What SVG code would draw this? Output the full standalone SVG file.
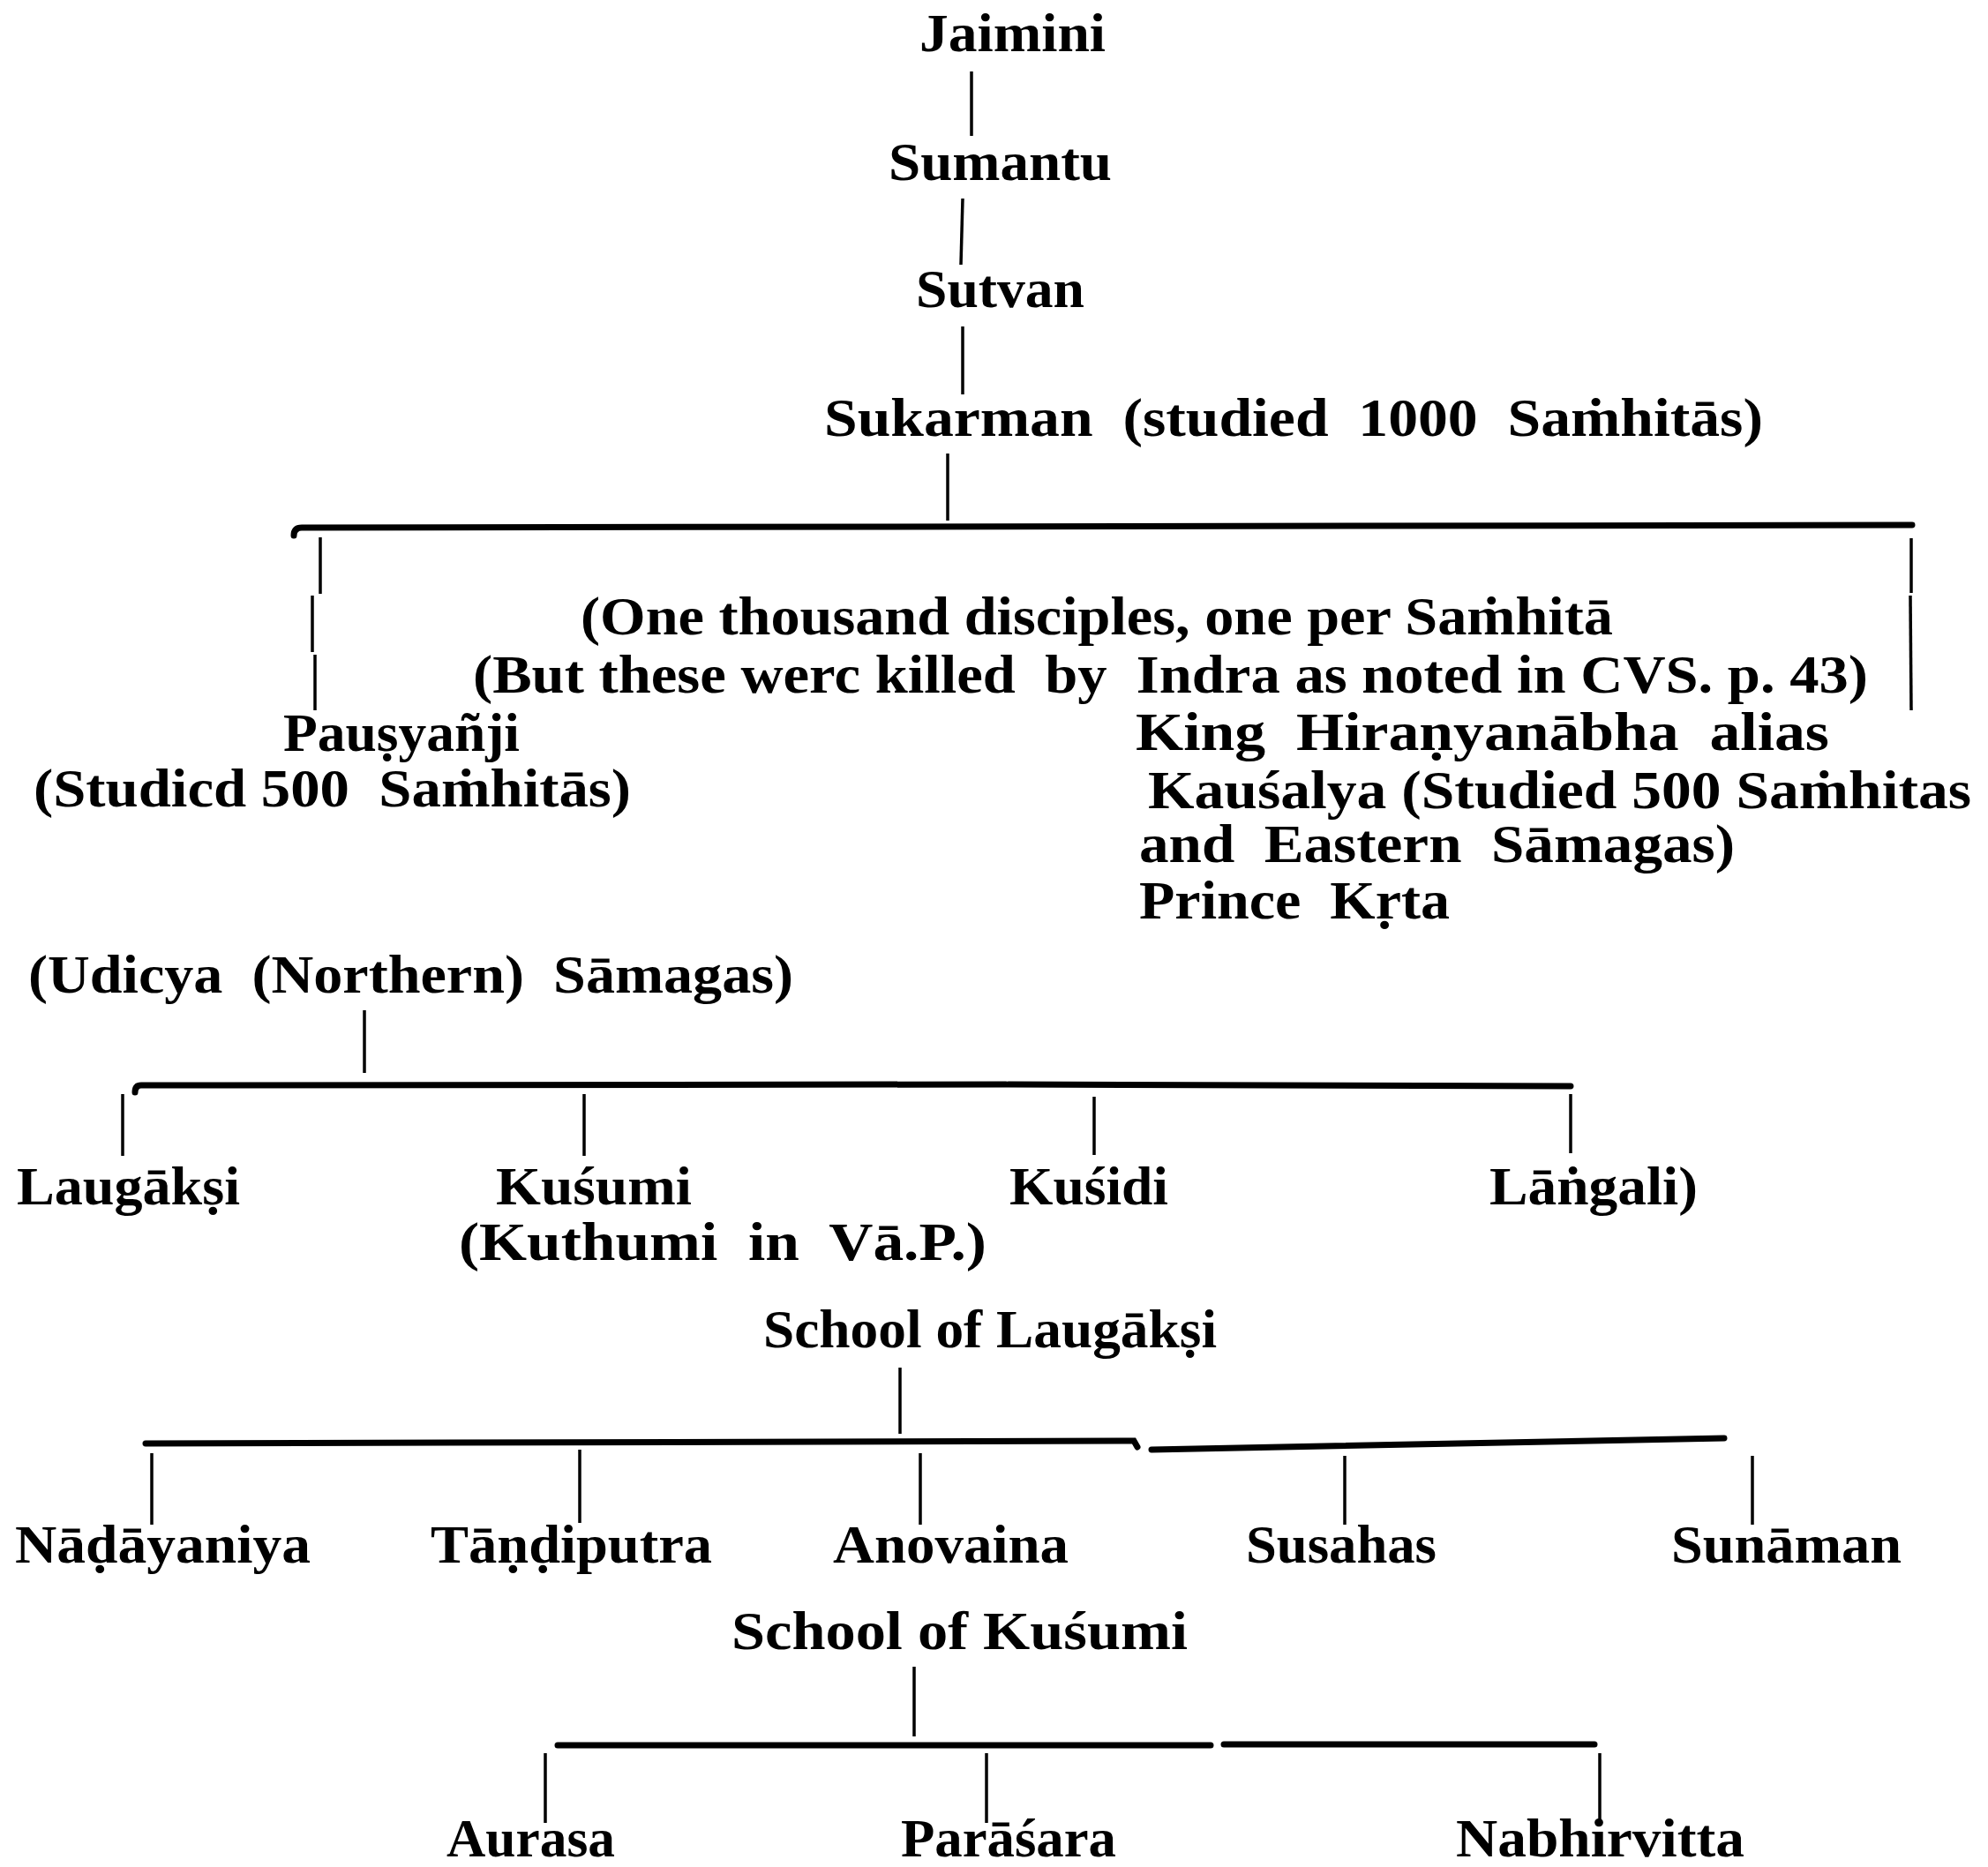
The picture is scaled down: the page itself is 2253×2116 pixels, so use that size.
<svg xmlns="http://www.w3.org/2000/svg" width="2253" height="2116" viewBox="0 0 2253 2116">
<style>
.t{font-family:"Liberation Serif","DejaVu Serif",serif;font-weight:bold;font-size:62px;fill:#000;white-space:pre}
.c{stroke:#000;stroke-width:3.5;fill:none}
.b{stroke:#000;stroke-width:7;fill:none;stroke-linecap:round}
</style>
<rect width="2253" height="2116" fill="#fff"/>
<g id="connectors">
<line class="c" x1="1101" y1="81" x2="1101" y2="154"/>
<line class="c" x1="1091" y1="225" x2="1089" y2="300"/>
<line class="c" x1="1091" y1="370" x2="1091" y2="447"/>
<line class="c" x1="1074" y1="514" x2="1074" y2="590"/>
<path class="b" d="M333,607 Q333,598 342,598 L2167,595"/>
<line class="c" x1="363" y1="609" x2="363" y2="673"/>
<line class="c" x1="354" y1="675" x2="354" y2="739"/>
<line class="c" x1="357" y1="742" x2="357" y2="805"/>
<line class="c" x1="2166" y1="610" x2="2166" y2="672"/>
<line class="c" x1="2165" y1="675" x2="2166" y2="805"/>
<line class="c" x1="413" y1="1145" x2="413" y2="1216"/>
<path class="b" d="M153,1238 Q153,1230 160,1230 L1140,1229 M1143,1229 L1780,1231"/>
<line class="c" x1="139" y1="1240" x2="139" y2="1310"/>
<line class="c" x1="662" y1="1240" x2="662" y2="1310"/>
<line class="c" x1="1240" y1="1243" x2="1240" y2="1309"/>
<line class="c" x1="1780" y1="1240" x2="1780" y2="1307"/>
<line class="c" x1="1020" y1="1550" x2="1020" y2="1625"/>
<path class="b" d="M165,1636 L1285,1633 L1289,1640 M1305,1643 L1954,1630"/>
<line class="c" x1="172" y1="1647" x2="172" y2="1728"/>
<line class="c" x1="657" y1="1643" x2="657" y2="1726"/>
<line class="c" x1="1043" y1="1647" x2="1043" y2="1728"/>
<line class="c" x1="1524" y1="1650" x2="1524" y2="1728"/>
<line class="c" x1="1986" y1="1650" x2="1986" y2="1728"/>
<line class="c" x1="1036" y1="1889" x2="1036" y2="1968"/>
<path class="b" d="M632,1978 L1372,1978 M1387,1977 L1807,1977"/>
<line class="c" x1="618" y1="1987" x2="618" y2="2066"/>
<line class="c" x1="1118" y1="1987" x2="1118" y2="2066"/>
<line class="c" x1="1813" y1="1987" x2="1813" y2="2066"/>
</g>
<g id="jaimini"><text class="t" x="1042" y="58" textLength="211" lengthAdjust="spacingAndGlyphs">Jaimini</text></g>
<g id="sumantu"><text class="t" x="1007" y="204" textLength="253" lengthAdjust="spacingAndGlyphs">Sumantu</text></g>
<g id="sutvan"><text class="t" x="1038" y="348" textLength="191" lengthAdjust="spacingAndGlyphs">Sutvan</text></g>
<g id="sukarman"><text class="t" x="934" y="494" textLength="1064" lengthAdjust="spacingAndGlyphs">Sukarman  (studied  1000  Saṁhitās)</text></g>
<g id="thousand">
<text class="t" x="658" y="719" textLength="1170" lengthAdjust="spacingAndGlyphs">(One thousand disciples, one per Saṁhitā</text>
<text class="t" x="536" y="785" textLength="1581" lengthAdjust="spacingAndGlyphs">(But these werc killed  by  Indra as noted in CVS. p. 43)</text>
</g>
<g id="pausyanji">
<text class="t" x="321" y="851" textLength="268" lengthAdjust="spacingAndGlyphs">Pauṣyañji</text>
<text class="t" x="38" y="914" textLength="677" lengthAdjust="spacingAndGlyphs">(Studicd 500  Saṁhitās)</text>
</g>
<g id="hiranyanabha">
<text class="t" x="1287" y="850" textLength="786" lengthAdjust="spacingAndGlyphs">King  Hiraṇyanābha  alias</text>
<text class="t" x="1301" y="916" textLength="933" lengthAdjust="spacingAndGlyphs">Kauśalya (Studied 500 Saṁhitas</text>
<text class="t" x="1291" y="977" textLength="675" lengthAdjust="spacingAndGlyphs">and  Eastern  Sāmagas)</text>
<text class="t" x="1291" y="1041" textLength="352" lengthAdjust="spacingAndGlyphs">Prince  Kṛta</text>
</g>
<g id="udicya"><text class="t" x="32" y="1125" textLength="867" lengthAdjust="spacingAndGlyphs">(Udicya  (Northern)  Sāmagas)</text></g>
<g id="laugaksi"><text class="t" x="19" y="1365" textLength="253" lengthAdjust="spacingAndGlyphs">Laugākṣi</text></g>
<g id="kusumi">
<text class="t" x="562" y="1365" textLength="222" lengthAdjust="spacingAndGlyphs">Kuśumi</text>
<text class="t" x="520" y="1428" textLength="598" lengthAdjust="spacingAndGlyphs">(Kuthumi  in  Vā.P.)</text>
</g>
<g id="kusidi"><text class="t" x="1144" y="1365" textLength="180" lengthAdjust="spacingAndGlyphs">Kuśidi</text></g>
<g id="langali"><text class="t" x="1688" y="1365" textLength="236" lengthAdjust="spacingAndGlyphs">Lāṅgali)</text></g>
<g id="school-laugaksi"><text class="t" x="865" y="1527" textLength="514" lengthAdjust="spacingAndGlyphs">School of Laugākṣi</text></g>
<g id="nadayaniya"><text class="t" x="17" y="1771" textLength="335" lengthAdjust="spacingAndGlyphs">Nāḍāyaniya</text></g>
<g id="tandiputra"><text class="t" x="488" y="1771" textLength="319" lengthAdjust="spacingAndGlyphs">Tāṇḍiputra</text></g>
<g id="anovaina"><text class="t" x="944" y="1771" textLength="267" lengthAdjust="spacingAndGlyphs">Anovaina</text></g>
<g id="susahas"><text class="t" x="1412" y="1771" textLength="216" lengthAdjust="spacingAndGlyphs">Susahas</text></g>
<g id="sunaman"><text class="t" x="1894" y="1771" textLength="261" lengthAdjust="spacingAndGlyphs">Sunāman</text></g>
<g id="school-kusumi"><text class="t" x="829" y="1869" textLength="517" lengthAdjust="spacingAndGlyphs">School of Kuśumi</text></g>
<g id="aurasa"><text class="t" x="506" y="2104" textLength="191" lengthAdjust="spacingAndGlyphs">Aurasa</text></g>
<g id="parasara"><text class="t" x="1021" y="2104" textLength="244" lengthAdjust="spacingAndGlyphs">Parāśara</text></g>
<g id="nabhirvitta"><text class="t" x="1650" y="2104" textLength="327" lengthAdjust="spacingAndGlyphs">Nabhirvitta</text></g>
</svg>
